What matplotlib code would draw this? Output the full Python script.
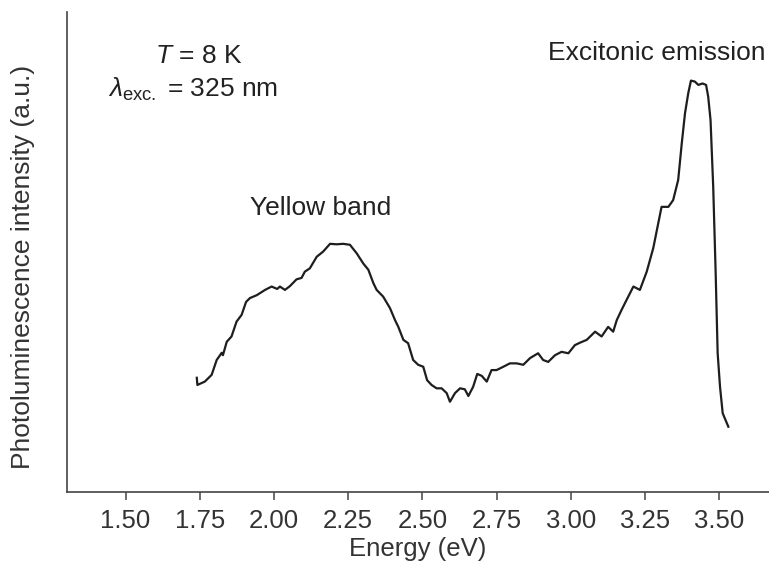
import matplotlib
matplotlib.use("Agg")
import matplotlib.pyplot as plt

# photoluminescence spectrum
energy = [1.740, 1.742, 1.767, 1.790, 1.807, 1.824, 1.828, 1.841, 1.857, 1.874,
          1.891, 1.906, 1.919, 1.942, 1.970, 1.992, 2.011, 2.020, 2.037, 2.054,
          2.076, 2.093, 2.104, 2.121, 2.144, 2.166, 2.189, 2.211, 2.233, 2.256,
          2.279, 2.301, 2.318, 2.335, 2.346, 2.368, 2.391, 2.408, 2.419, 2.436,
          2.452, 2.469, 2.486, 2.503, 2.516, 2.531, 2.548, 2.565, 2.582, 2.593,
          2.610, 2.627, 2.643, 2.655, 2.671, 2.685, 2.700, 2.717, 2.733, 2.750,
          2.773, 2.795, 2.818, 2.840, 2.863, 2.890, 2.907, 2.924, 2.947, 2.969,
          2.992, 3.014, 3.031, 3.054, 3.082, 3.104, 3.126, 3.143, 3.155, 3.171,
          3.188, 3.211, 3.233, 3.256, 3.278, 3.306, 3.329, 3.345, 3.362, 3.374,
          3.385, 3.396, 3.405, 3.418, 3.430, 3.444, 3.456, 3.463, 3.471, 3.480,
          3.488, 3.495, 3.503, 3.512, 3.531]
intensity = [23.8, 22.3, 23.0, 24.4, 27.5, 29.0, 28.5, 31.3, 32.4, 35.5,
             36.9, 39.6, 40.4, 41.0, 42.1, 42.8, 42.3, 42.8, 42.1, 42.9,
             44.3, 44.6, 45.9, 46.6, 49.0, 50.1, 51.7, 51.6, 51.7, 51.5,
             49.7, 47.6, 46.3, 43.5, 42.1, 40.7, 38.3, 35.8, 34.4, 31.7,
             31.0, 27.5, 26.5, 26.1, 23.3, 22.3, 21.6, 21.6, 20.6, 18.8,
             20.6, 21.6, 21.4, 20.0, 21.9, 24.6, 24.2, 23.0, 25.4, 25.4,
             26.1, 26.8, 26.8, 26.5, 27.9, 28.9, 27.5, 27.1, 28.5, 29.2,
             28.9, 30.6, 31.1, 31.7, 33.4, 32.4, 34.4, 33.4, 35.8, 37.9,
             40.0, 42.8, 42.1, 45.9, 50.8, 59.4, 59.4, 60.8, 65.0, 72.6,
             78.9, 83.1, 85.7, 85.5, 84.8, 85.1, 84.8, 82.4, 77.5, 63.6,
             46.3, 28.9, 21.9, 16.4, 13.6]

xticks = [1.50, 1.75, 2.00, 2.25, 2.50, 2.75, 3.00, 3.25, 3.50]

plt.rcParams["font.family"] = ["Liberation Sans", "DejaVu Sans"]
plt.rcParams["mathtext.fontset"] = "custom"
plt.rcParams["mathtext.rm"] = "Liberation Sans"
plt.rcParams["mathtext.it"] = "Liberation Sans:italic"

fig = plt.figure(figsize=(7.69, 5.69), dpi=100)
ax = fig.add_axes([0.0871, 0.1353, 0.9129, 0.8437])

ax.plot(energy, intensity, color="#1e1e1e", lw=1.6)

ax.set_xlim(1.3026, 3.668)
ax.set_ylim(0, 100)
ax.set_xticks(xticks)
ax.set_xticklabels(["%.2f" % t for t in xticks], fontsize=18.5, color="#333333")
ax.set_yticks([])
ax.tick_params(axis="x", direction="out", length=6, width=1.1, color="#444444", pad=6)

for side in ["top", "right"]:
    ax.spines[side].set_visible(False)
for side in ["left", "bottom"]:
    ax.spines[side].set_color("#444444")
    ax.spines[side].set_linewidth(1.2)

ax.set_xlabel("Energy (eV)", fontsize=18.5, color="#333333", labelpad=3)
ax.set_ylabel("Photoluminescence intensity (a.u.)", fontsize=19, color="#333333")
ax.yaxis.set_label_coords(-0.046, 0.468)

ax.text(0.125, 0.894, r"$T$ = 8 K", transform=ax.transAxes, fontsize=19, color="#222222",
        ha="left", va="baseline")
ax.text(0.058, 0.823, r"$\lambda_{\rm exc.}$ = 325 nm", transform=ax.transAxes, fontsize=19,
        color="#222222", ha="left", va="baseline")
ax.text(0.261, 0.577, "Yellow band", transform=ax.transAxes, fontsize=19, color="#222222",
        ha="left", va="baseline")
ax.text(0.685, 0.900, "Excitonic emission", transform=ax.transAxes, fontsize=19,
        color="#222222", ha="left", va="baseline")

fig.savefig("out.png", dpi=100)
